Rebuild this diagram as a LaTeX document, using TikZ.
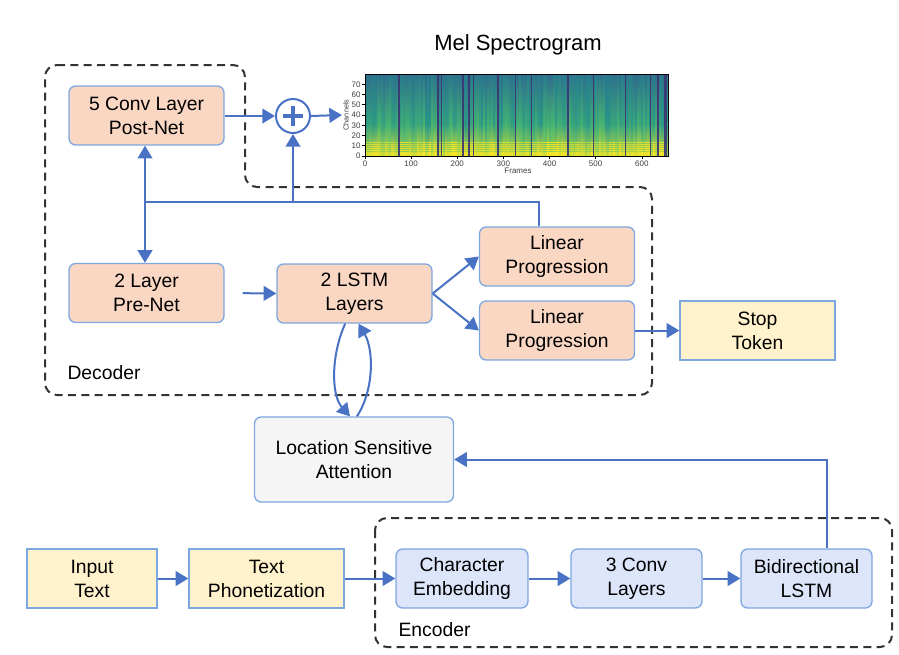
\documentclass[tikz,border=0pt]{standalone}
\usepackage{fontspec}
\setmainfont{Liberation Sans}
\usetikzlibrary{arrows.meta}

\definecolor{arrblue}{HTML}{4A72C4}
\definecolor{boxline}{HTML}{7EA6E0}
\definecolor{decfill}{HTML}{FAD7C3}
\definecolor{encfill}{HTML}{DCE5F9}
\definecolor{inpfill}{HTML}{FFF2CC}
\definecolor{attfill}{HTML}{F5F5F5}
\definecolor{dashgray}{HTML}{333333}
\definecolor{virA}{HTML}{440154}
\definecolor{virB}{HTML}{33608D}
\definecolor{virC}{HTML}{21908C}
\definecolor{virD}{HTML}{5DC863}
\definecolor{virE}{HTML}{FDE725}

\newcommand{\diagfont}{\fontsize{14.5pt}{18pt}\selectfont}

\tikzset{every picture/.style={line width=0.75pt}}
\tikzset{
  decbox/.style={draw=boxline, line width=1pt, fill=decfill, rounded corners=5pt, minimum width=116.25pt, minimum height=44.25pt, inner sep=0.75pt, align=center, font=\diagfont},
  encbox/.style={decbox, fill=encfill, minimum width=98.25pt},
  inpbox/.style={decbox, fill=inpfill, sharp corners},
  attbox/.style={decbox, fill=attfill, minimum width=149.25pt, minimum height=63.75pt},
  arr/.style={draw=arrblue, line width=1.5pt, -{Triangle[length=9.5pt,width=11pt]}},
  wire/.style={draw=arrblue, line width=1.5pt},
  region/.style={draw=dashgray, line width=1.5pt, dash pattern=on 6pt off 4pt, rounded corners=9pt},
  ticklabel/.style={inner sep=0.75pt, font=\fontsize{6pt}{7pt}\selectfont, text=black!75},
}

\begin{document}
\begin{tikzpicture}[x=0.75pt,y=0.75pt,yscale=-1,xscale=1]
\useasboundingbox (0,0) rectangle (899,654);

%Shape: Decoder region
\draw[region] (45,65) -- (245,65) -- (245,187) -- (652,187) -- (652,395) -- (45,395) -- cycle ;
%Shape: Encoder region
\draw[region] (375,518) rectangle (892,647) ;

%Spectrogram
\pgfmathsetseed{11}
\foreach \i in {0,...,150} {
  \pgfmathtruncatemacro{\la}{20+45*rnd}
  \pgfmathtruncatemacro{\lb}{35+55*rnd}
  \pgfmathtruncatemacro{\lc}{30+60*rnd}
  \pgfmathsetmacro{\ld}{0.35+0.6*rnd}
  \shade[top color=virC!\la!virB, bottom color=virC!\lb!virD] ({365+2*\i},74) rectangle ({367.4+2*\i},124) ;
  \shade[top color=virC!\lb!virD, bottom color=virE!\lc!virD] ({365+2*\i},124) rectangle ({367.4+2*\i},156) ;
  \foreach \c in {1,3,...,13} {
    \draw[virE, opacity=\ld, line width=0.9pt] ({365+2*\i},{156-1.025*\c}) -- ({367.4+2*\i},{156-1.025*\c}) ;
  }
}
\foreach \x/\w in {398/1.5, 437/2, 441/1, 462/2, 468/1.5, 473/1, 497/1.5, 515/1.2, 531/1, 567/2, 593/1.2, 625/1.2, 650/1, 657/1.5, 664/3} {
  \fill[virB!55!virA, opacity=0.9] (\x,74) rectangle ({\x+\w},156) ;
}
\draw[black, line width=0.6pt] (365,74) rectangle (668,156) ;
\foreach \c in {0,10,...,70} {
  \draw[black, line width=0.4pt] (362,{156-1.025*\c}) -- (365,{156-1.025*\c}) ;
  \node[ticklabel, anchor=east] at (362,{156-1.025*\c}) {\c};
}
\foreach \f in {0,100,...,600} {
  \draw[black, line width=0.4pt] ({365+0.4613*\f},156) -- ({365+0.4613*\f},159) ;
  \node[ticklabel, anchor=north] at ({365+0.4613*\f},159) {\f};
}
% Text Node
\node[ticklabel, rotate=90, font=\fontsize{5.5pt}{6pt}\selectfont] (chanlabel) at (346,115) {Channels};
% Text Node
\node[ticklabel] (framelabel) at (518,171) {Frames};
% Text Node
\node[inner sep=0.75pt, font=\fontsize{16.5pt}{20pt}\selectfont] (meltitle) at (518,45) {Mel Spectrogram};
\coordinate (melin) at (342,115) ;

%Decoder nodes
\node[decbox] (postnet) at (146.5,115.5) {5 Conv Layer\\Post-Net};
\node[decbox] (prenet) at (146.5,293) {2 Layer\\Pre-Net};
\node[decbox] (lstm) at (354.5,293.5) {2 LSTM\\Layers};
\node[decbox] (lin1) at (557,256.5) {Linear\\Progression};
\node[decbox] (lin2) at (557,330.5) {Linear\\Progression};
\node[inpbox] (stop) at (757.5,330.5) {Stop\\Token};
\node[circle, draw=arrblue, line width=1.5pt, fill=white, minimum size=25.5pt, inner sep=0pt] (plus) at (293,116) {};
\draw[arrblue, line width=3.5pt] ([xshift=-7.5pt]plus.center) -- ([xshift=7.5pt]plus.center) ;
\draw[arrblue, line width=3.5pt] ([yshift=-7.5pt]plus.center) -- ([yshift=7.5pt]plus.center) ;
% Text Node
\node[anchor=west, inner sep=0.75pt, font=\diagfont] (declabel) at (66,373) {Decoder};

%Attention and encoder nodes
\node[attbox] (att) at (354,459.5) {Location Sensitive\\Attention};
\node[inpbox, minimum width=97.5pt] (inp) at (92,578.5) {Input\\Text};
\node[inpbox] (phon) at (266.5,578.5) {Text\\Phonetization};
\node[encbox, minimum width=99pt] (chr) at (462,578.5) {Character\\Embedding};
\node[encbox] (conv) at (636.5,578.5) {3 Conv\\Layers};
\node[encbox] (bilstm) at (806.5,578.5) {Bidirectional\\LSTM};
% Text Node
\node[anchor=west, inner sep=0.75pt, font=\diagfont] (enclabel) at (397,630) {Encoder};

%Connectors
\draw[arr] (postnet.east |- plus) -- (plus.west) ;
\draw[arr] (plus.east) -- (melin) ;
\coordinate (fb) at (145,202) ;
\draw[wire] ([xshift=-13.5pt]lin1.north) |- (fb) ;
\draw[arr] (fb) -- (postnet.south -| fb) ;
\draw[arr] (fb) -- (prenet.north -| fb) ;
\draw[arr] (plus.south |- fb) -- (plus.south) ;
\draw[arr, shorten <=13.5pt] (prenet.east) -- (lstm.west) ;
\draw[arr] (lstm.east) -- (lin1.west) ;
\draw[arr] (lstm.east) -- (lin2.west) ;
\draw[arr] (lin2.east) -- (stop.west) ;
\draw[arr] ([xshift=-7pt]lstm.south) .. controls (331,355) and (331,395) .. ([xshift=-3pt]att.north) ;
\draw[arr] ([xshift=2.25pt]att.north) .. controls (374,390) and (374,350) .. ([xshift=3pt]lstm.south) ;
\draw[arr] ([xshift=15.4pt]bilstm.north) |- (att.east) ;
\draw[arr] (inp.east) -- (phon.west) ;
\draw[arr] (phon.east) -- (chr.west) ;
\draw[arr] (chr.east) -- (conv.west) ;
\draw[arr] (conv.east) -- (bilstm.west) ;

\end{tikzpicture}
\end{document}
